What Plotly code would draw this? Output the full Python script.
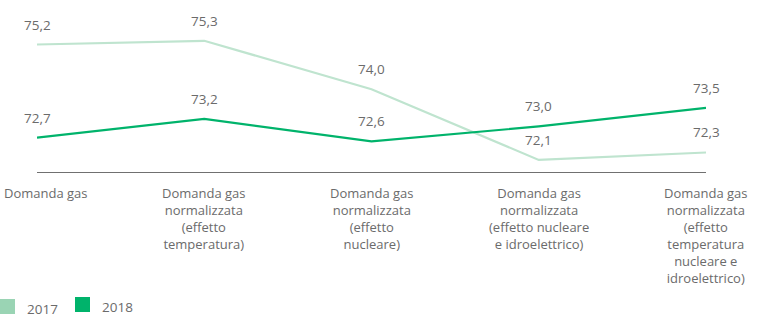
import plotly.graph_objects as go

categories = [
    "Domanda gas",
    "Domanda gas<br>normalizzata<br>(effetto<br>temperatura)",
    "Domanda gas<br>normalizzata<br>(effetto<br>nucleare)",
    "Domanda gas<br>normalizzata<br>(effetto nucleare<br>e idroelettrico)",
    "Domanda gas<br>normalizzata<br>(effetto<br>temperatura<br>nucleare e<br>idroelettrico)",
]
series_names = ["2017", "2018"]
values_2017 = [75.2, 75.3, 74.0, 72.1, 72.3]
values_2018 = [72.7, 73.2, 72.6, 73.0, 73.5]

line_colors = ["#bfe4cf", "#00b36b"]
legend_colors = ["#9ad4b4", "#00b36b"]
text_color = "#6b6b6b"
font_family = "Open Sans, Noto Sans, sans-serif"

xs = list(range(len(categories)))

fig = go.Figure()
for name, vals, col in zip(series_names, [values_2017, values_2018], line_colors):
    fig.add_trace(go.Scatter(x=xs, y=vals, mode="lines", name=name,
                             line=dict(color=col, width=2.2), showlegend=False,
                             hoverinfo="skip"))

annotations = []
for vals in [values_2017, values_2018]:
    for i, v in enumerate(vals):
        annotations.append(dict(x=i, y=v, xref="x", yref="y",
                                text=f"{v:.1f}".replace(".", ","),
                                showarrow=False, yshift=20, xanchor="center",
                                yanchor="middle",
                                font=dict(size=13.5, color=text_color, family=font_family)))

for i, c in enumerate(categories):
    annotations.append(dict(x=i, y=0, xref="x", yref="paper", text=c,
                            showarrow=False, xanchor="center", yanchor="top",
                            yshift=-10, xshift=8.5 if i == 0 else 0, align="center",
                            font=dict(size=13, color=text_color, family=font_family)))

# legend
shapes = []
legend_x = [0, 75]
legend_y = [(299, 314), (297, 312)]
H = 324
for name, col, lx, (y0, y1) in zip(series_names, legend_colors, legend_x, legend_y):
    shapes.append(dict(type="rect", xref="paper", yref="paper",
                       x0=(lx - 37) / 669, x1=(lx + 15 - 37) / 669,
                       y0=(172 - y1) / 172, y1=(172 - y0) / 172,
                       line=dict(width=0), fillcolor=col))
    annotations.append(dict(x=(lx + 25 - 37) / 669, y=(172 - (y0 + y1) / 2 - 2) / 172,
                            xref="paper", yref="paper", text=name, showarrow=False,
                            xanchor="left", yanchor="middle",
                            font=dict(size=13.5, color=text_color, family=font_family)))

fig.update_layout(
    width=765, height=324,
    margin=dict(l=37, r=59, t=0, b=152),
    paper_bgcolor="white", plot_bgcolor="white",
    xaxis=dict(range=[0, 4], showgrid=False, zeroline=False, showticklabels=False,
               showline=True, linecolor="#707070", linewidth=1, ticks=""),
    yaxis=dict(range=[71.776, 76.395], showgrid=False, zeroline=False,
               showticklabels=False, showline=False),
    annotations=annotations, shapes=shapes,
    showlegend=False,
)
fig.write_html("out.html")
